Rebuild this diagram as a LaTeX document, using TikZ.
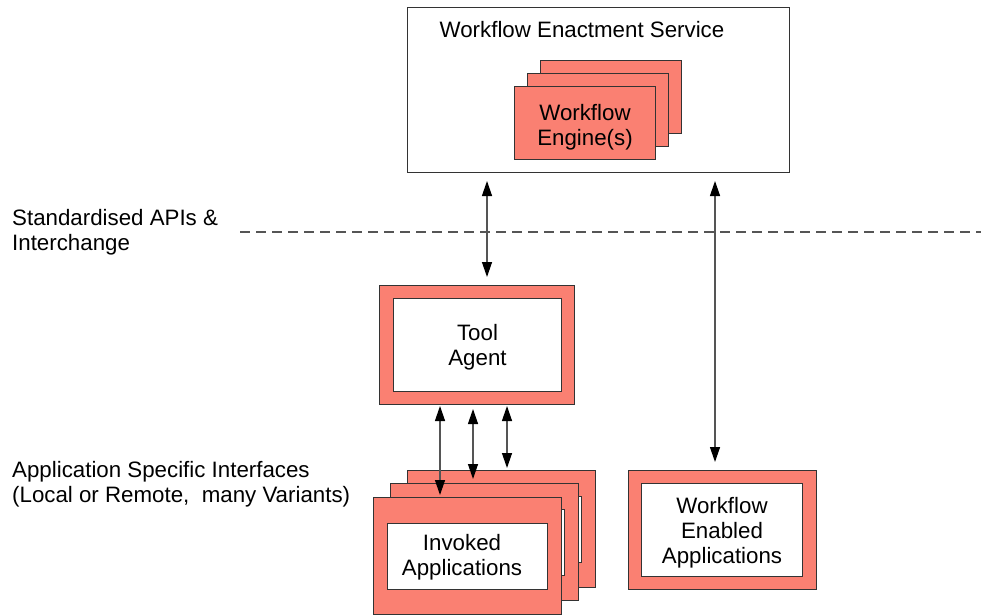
\documentclass[tikz,border=0pt]{standalone}
\usepackage{fontspec}
\setmainfont{Liberation Sans}
\usetikzlibrary{arrows.meta}
\definecolor{salmonfill}{RGB}{250,128,114}
\definecolor{edgecol}{RGB}{51,51,51}
\definecolor{shaftcol}{RGB}{85,85,85}
\begin{document}
\begin{tikzpicture}[x=1pt,y=-1pt,
  box/.style={draw=edgecol, line width=1pt, inner sep=0pt, anchor=north west},
  salmonbox/.style={box, fill=salmonfill},
  whitebox/.style={box, fill=white},
  lbl/.style={font=\fontsize{22.3}{25}\selectfont, align=center, inner sep=0pt, yshift=-2.5pt},
  biarrow/.style={draw=shaftcol, line width=1.3pt,
    {Triangle[length=15pt,width=10pt,color=black]}-{Triangle[length=15pt,width=10pt,color=black]}},
  apiline/.style={draw=shaftcol, line width=1.3pt, dash pattern=on 10pt off 6pt},
  enginebox/.style={salmonbox, minimum width=141pt, minimum height=73pt},
  invbox/.style={salmonbox, minimum width=188pt, minimum height=117pt},
  invinner/.style={whitebox, minimum width=160pt, minimum height=66pt}
]
\useasboundingbox (0,0) rectangle (981,615);

% Workflow Enactment Service
\node[whitebox, minimum width=382pt, minimum height=165pt] (ws) at (407,7) {};
\node[lbl] (wstitle) at (582,27) {Workflow Enactment Service};
\node[enginebox] (e3) at (540,60) {};
\node[enginebox] (e2) at (527,73) {};
\node[enginebox] (e1) at (514,86) {};
\node[lbl, yshift=-1.5pt] (etext) at (e1.center) {Workflow\\Engine(s)};

% Standardised APIs line
\coordinate (dl1) at (240,232);
\coordinate (dl2) at (981,232);
\draw[apiline] (dl1) -- (dl2);
\node[lbl, align=left, anchor=west] (std) at (12,230) {Standardised APIs \&\\Interchange};

% Tool Agent
\node[salmonbox, minimum width=195pt, minimum height=119pt] (ta) at (379,285) {};
\node[whitebox, minimum width=168pt, minimum height=93pt] (tai) at (393,298) {};
\node[lbl] (tatext) at (tai.center) {Tool\\Agent};

% Application specific interfaces label
\node[lbl, align=left, anchor=west] (asi) at (12,481.5) {Application Specific Interfaces\\(Local or Remote,~~many Variants)};

% Invoked applications stack
\node[invbox] (inv3) at (407,470) {};
\node[invinner] (inv3i) at (421,496) {};
\node[invbox] (inv2) at (390,483) {};
\node[invinner] (inv2i) at (404,509) {};
\node[invbox] (inv1) at (373,497) {};
\node[invinner] (inv1i) at (387,523) {};
\node[lbl] (invtext) at (462,555) {Invoked\\Applications};

% Workflow Enabled Applications
\node[salmonbox, minimum width=188pt, minimum height=119pt] (wea) at (628,470) {};
\node[whitebox, minimum width=161pt, minimum height=93pt] (weai) at (641,483) {};
\node[lbl] (weatext) at (weai.center) {Workflow\\Enabled\\Applications};

% Connectors
\coordinate (xa) at (487,0);
\coordinate (xb) at (715,0);
\coordinate (xc) at (440,0);
\coordinate (xd) at (473,0);
\coordinate (xe) at (507,0);
\draw[biarrow, shorten <=8pt, shorten >=8pt] (ws.south -| xa) -- (ta.north -| xa);
\draw[biarrow, shorten <=8pt, shorten >=8pt] (ws.south -| xb) -- (wea.north -| xb);
\draw[biarrow, shorten <=1pt, shorten >=2pt] (ta.south -| xc) -- (inv1.north -| xc);
\draw[biarrow, shorten <=4pt, shorten >=4pt] (ta.south -| xd) -- (inv2.north -| xd);
\draw[biarrow, shorten <=1pt, shorten >=2pt] (ta.south -| xe) -- (inv3.north -| xe);
\end{tikzpicture}
\end{document}
